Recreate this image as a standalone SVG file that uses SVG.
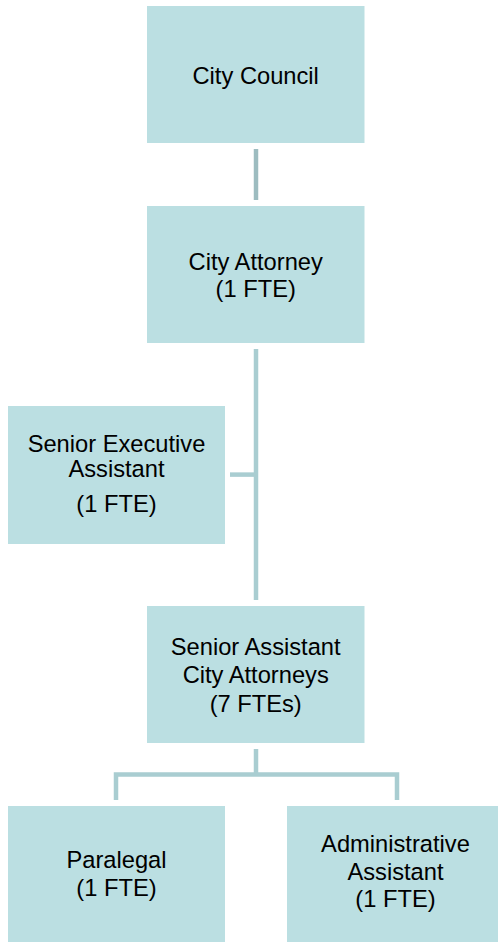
<svg xmlns="http://www.w3.org/2000/svg" width="498" height="942" viewBox="0 0 498 942">
<style>
.box{fill:#BBDFE2}
.t{font-family:"Liberation Sans",Arial,sans-serif;font-size:23.7px;fill:#000;text-anchor:middle}
.c{stroke:#A9CDD1;stroke-width:4.5;fill:none}
.c0{stroke:#9DBCC0;stroke-width:4.5;fill:none}
</style>
<rect width="498" height="942" fill="#fff"/>
<g id="connectors">
<line class="c0" x1="256" y1="149" x2="256" y2="200"/>
<line class="c" x1="256" y1="349" x2="256" y2="600"/>
<line class="c" x1="230" y1="474.6" x2="256" y2="474.6"/>
<path class="c" d="M256 749 V774.6 M116 800 V774.6 H397 V800"/>
</g>
<g id="city-council">
<rect class="box" x="147" y="6" width="217.5" height="137"/>
<text class="t" x="255.7" y="84">City Council</text>
</g>
<g id="city-attorney">
<rect class="box" x="147" y="206" width="217.5" height="137"/>
<text class="t" x="255.7" y="269.5">City Attorney</text>
<text class="t" x="255.7" y="297">(1 FTE)</text>
</g>
<g id="senior-executive-assistant">
<rect class="box" x="8" y="406" width="217" height="138"/>
<text class="t" x="116.5" y="451.7">Senior Executive</text>
<text class="t" x="116.5" y="477.3">Assistant</text>
<text class="t" x="116.5" y="511.7">(1 FTE)</text>
</g>
<g id="senior-assistant-city-attorneys">
<rect class="box" x="147" y="606" width="217.5" height="137"/>
<text class="t" x="255.7" y="655.3">Senior Assistant</text>
<text class="t" x="255.7" y="683.3">City Attorneys</text>
<text class="t" x="255.7" y="711.5">(7 FTEs)</text>
</g>
<g id="paralegal">
<rect class="box" x="8" y="806" width="217" height="140"/>
<text class="t" x="116.5" y="867.7">Paralegal</text>
<text class="t" x="116.5" y="896">(1 FTE)</text>
</g>
<g id="administrative-assistant">
<rect class="box" x="287" y="806" width="217" height="140"/>
<text class="t" x="395.5" y="852.3">Administrative</text>
<text class="t" x="395.5" y="880">Assistant</text>
<text class="t" x="395.5" y="907.3">(1 FTE)</text>
</g>
</svg>
